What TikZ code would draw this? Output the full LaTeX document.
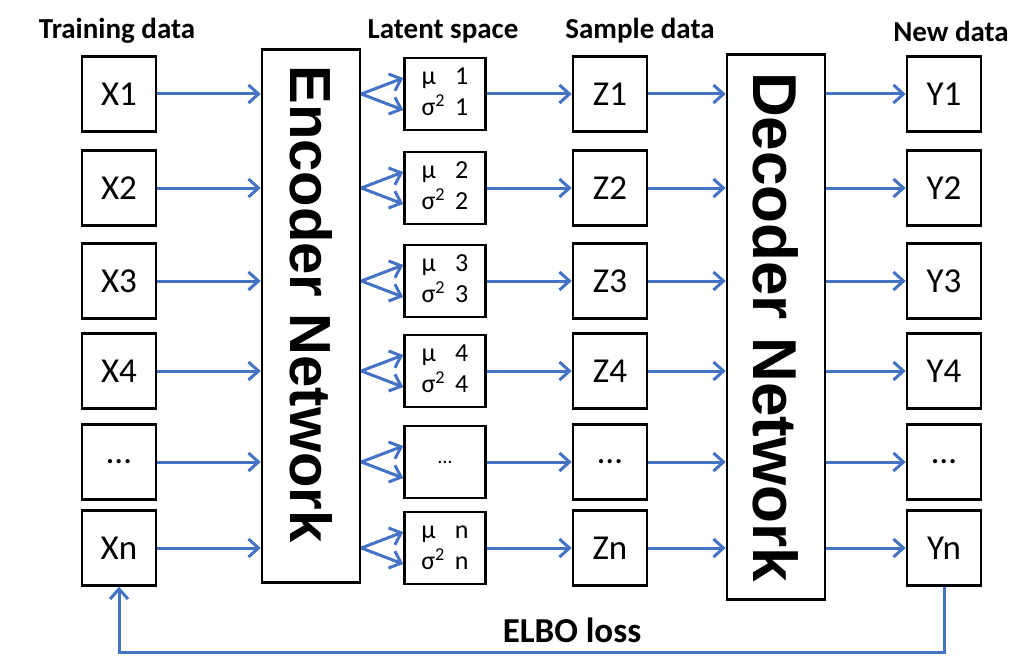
\documentclass[tikz,border=0pt]{standalone}
\usepackage{fontspec}
\setmainfont{Carlito}
\newfontfamily\netfont{Liberation Sans}
\usetikzlibrary{arrows.meta, positioning}
\definecolor{arrowblue}{RGB}{68,114,196}
\newcommand{\musig}[1]{\begin{tabular}{@{}l@{\hspace{10pt}}l@{}}μ & #1\\σ\textsuperscript{2} & #1\end{tabular}}

\begin{document}
\begin{tikzpicture}[
  x=1pt, y=-1pt,
  box/.style={draw, line width=2.6pt, minimum width=74pt, minimum height=75pt, font=\fontsize{35}{35}\selectfont},
  latent/.style={draw, line width=2.6pt, minimum width=81pt, minimum height=72pt, inner sep=0pt, font=\fontsize{26}{31}\selectfont},
  net/.style={draw, line width=2.6pt, minimum width=98pt, inner sep=0pt, font=\netfont\bfseries},
  head/.style={font=\bfseries\fontsize{29}{29}\selectfont},
  arrow/.style={-{Straight Barb[length=10pt, width=18pt]}, line width=3pt, arrowblue}
]
\useasboundingbox (0,0) rectangle (1021,661);

% headers
\node[head] (htrain) at (117,31) {Training data};
\node[head] (hlatent) at (443,31) {Latent space};
\node[head] (hsample) at (640,31) {Sample data};
\node[head] (hnew) at (951,31) {New data};

% networks
\node[net, minimum height=533pt] (enc) at (311,316) {\fontsize{58}{58}\selectfont\rotatebox{-90}{Encoder Network\hspace{24pt}}};
\node[net, minimum height=545pt] (dec) at (776,327) {\fontsize{62}{62}\selectfont\rotatebox{-90}{Decoder Network}};

% rows
\foreach \i/\lab/\yy in {1/1/94, 2/2/188, 3/3/281, 4/4/371, 5/{}/462, 6/n/548} {
  \node[box] (x\i) at (119,\yy) {\ifnum\i=5 …\else X\lab\fi};
  \node[latent] (m\i) at (445,\yy) {\ifnum\i=5 {\fontsize{20}{20}\selectfont …}\else\musig{\lab}\fi};
  \node[box] (z\i) at (610,\yy) {\ifnum\i=5 …\else Z\lab\fi};
  \node[box] (y\i) at (944,\yy) {\ifnum\i=5 …\else Y\lab\fi};
  \draw[arrow] (x\i) -- (x\i -| enc.west);
  \draw[arrow] (enc.east |- m\i) -- ([yshift=16pt]m\i.west);
  \draw[arrow] (enc.east |- m\i) -- ([yshift=-16pt]m\i.west);
  \draw[arrow] (m\i) -- (z\i);
  \draw[arrow] (z\i) -- (z\i -| dec.west);
  \draw[arrow] (dec.east |- y\i) -- (y\i);
}

% loss
\draw[arrow] (y6.south) -- ++(0,66) -| (x6.south);
\node[font=\bfseries\fontsize{35}{35}\selectfont] (elbo) at (572,630) {ELBO loss};
\end{tikzpicture}
\end{document}
